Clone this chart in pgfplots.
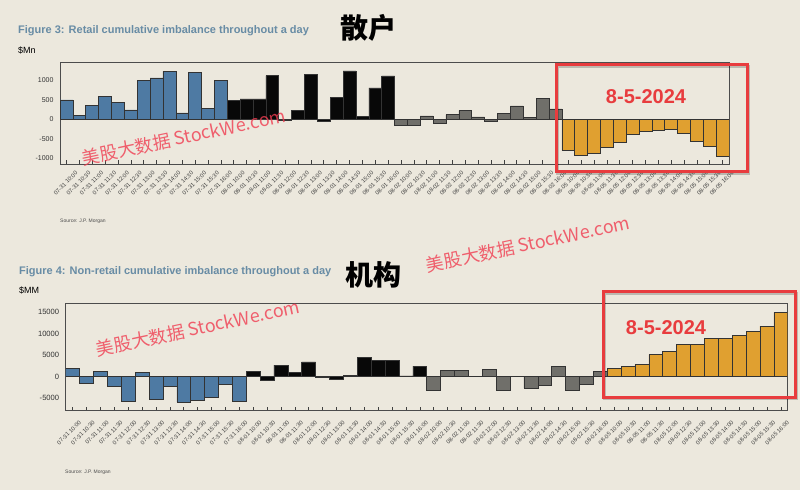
\documentclass[border=0pt]{standalone}
\usepackage{pgfplots}
\pgfplotsset{compat=1.18}
\usepackage{fontspec}
\setmainfont{Liberation Sans}
\newfontfamily\cjk{Noto Sans CJK SC}
\definecolor{bg}{RGB}{236,232,221}
\definecolor{rblue}{RGB}{78,122,163}
\definecolor{rblack}{RGB}{8,8,8}
\definecolor{rgray}{RGB}{112,111,106}
\definecolor{rorange}{RGB}{224,160,48}
\definecolor{titleblue}{RGB}{104,140,165}
\definecolor{boxred}{RGB}{232,60,62}
\definecolor{wmred}{RGB}{240,60,80}
\pgfplotsset{
  imb/.style={
    scale only axis, xmin=-0.5, xmax=51.5,
    scaled y ticks=false,
    xtick={0,...,51},
    xticklabels={07-31 10:00,07-31 10:30,07-31 11:00,07-31 11:30,07-31 12:00,07-31 12:30,07-31 13:00,07-31 13:30,07-31 14:00,07-31 14:30,07-31 15:00,07-31 15:30,07-31 16:00,
      08-01 10:00,08-01 10:30,08-01 11:00,08-01 11:30,08-01 12:00,08-01 12:30,08-01 13:00,08-01 13:30,08-01 14:00,08-01 14:30,08-01 15:00,08-01 15:30,08-01 16:00,
      08-02 10:00,08-02 10:30,08-02 11:00,08-02 11:30,08-02 12:00,08-02 12:30,08-02 13:00,08-02 13:30,08-02 14:00,08-02 14:30,08-02 15:00,08-02 15:30,08-02 16:00,
      08-05 10:00,08-05 10:30,08-05 11:00,08-05 11:30,08-05 12:00,08-05 12:30,08-05 13:00,08-05 13:30,08-05 14:00,08-05 14:30,08-05 15:00,08-05 15:30,08-05 16:00},
    xtick pos=left, tick align=inside, major tick length=3.5pt,
    xtick style={draw=black!75, line width=0.5pt},
    ytick style={draw=none},
    axis line style={draw=black!70, line width=0.7pt},
    x tick label style={rotate=45, anchor=east, font=\fontsize{5.8}{5.8}\selectfont, text=black!75, inner sep=0.5pt, yshift=-13pt},
    y tick label style={text=black!80, xshift=-3pt},
  },
  bars/.style={ybar, bar width=1, bar shift=0pt, draw=black!80, line width=0.5pt, fill=#1},
}
\begin{document}
\begin{tikzpicture}[x=1pt,y=1pt]
\path[use as bounding box, fill=bg] (0,0) rectangle (800,490);

% ---------- Figure 3 ----------
\node[anchor=west, text=titleblue, font=\bfseries\fontsize{11}{11}\selectfont, inner sep=0] at (18,459) {Figure 3: Retail cumulative imbalance throughout a day};
\node[anchor=west, font=\fontsize{9}{9}\selectfont, inner sep=0] at (18,440) {\$Mn};
\node[font=\cjk\bfseries\fontsize{28}{28}\selectfont, inner sep=0] at (368,462) {散户};
\node[anchor=west, font=\fontsize{5}{5}\selectfont, text=black!70, inner sep=0] at (60,269) {Source: J.P. Morgan};

\begin{axis}[imb, at={(60pt,326pt)}, anchor=south west, width=669pt, height=102pt,
  ymin=-1155, ymax=1480,
  ytick={-1000,-500,0,500,1000}, yticklabels={-1000,-500,0,500,1000},
  y tick label style={font=\fontsize{7}{7}\selectfont},
  x tick label style={xshift=2pt}]
\addplot[bars=rblue] coordinates {(0,500)(1,100)(2,355)(3,590)(4,435)(5,245)(6,1005)(7,1070)(8,1235)(9,165)(10,1210)(11,280)(12,1000)};
\addplot[bars=rblack] coordinates {(13,487)(14,530)(15,530)(16,1130)(17,-20)(18,222)(19,1165)(20,-43)(21,574)(22,1252)(23,78)(24,809)(25,1122)};
\addplot[bars=rgray] coordinates {(26,-165)(27,-148)(28,87)(29,-113)(30,122)(31,226)(32,61)(33,-61)(34,148)(35,348)(36,52)(37,539)(38,270)};
\addplot[bars=rorange] coordinates {(39,-809)(40,-922)(41,-870)(42,-730)(43,-583)(44,-374)(45,-313)(46,-287)(47,-252)(48,-357)(49,-574)(50,-704)(51,-957)};
\end{axis}

% ---------- Figure 4 ----------
\node[anchor=west, text=titleblue, font=\bfseries\fontsize{11}{11}\selectfont, inner sep=0] at (19,218) {Figure 4: Non-retail cumulative imbalance throughout a day};
\node[anchor=west, font=\fontsize{9}{9}\selectfont, inner sep=0] at (19,200) {\$MM};
\node[font=\cjk\bfseries\fontsize{28}{28}\selectfont, inner sep=0] at (373,215) {机构};
\node[anchor=west, font=\fontsize{5}{5}\selectfont, text=black!70, inner sep=0] at (65,18) {Source: J.P. Morgan};

\begin{axis}[imb, at={(65.7pt,79.3pt)}, anchor=south west, width=722pt, height=107.4pt,
  ymin=-7850, ymax=16950,
  ytick={-5000,0,5000,10000,15000}, yticklabels={-5000,0,5000,10000,15000},
  y tick label style={font=\fontsize{7.6}{7.6}\selectfont},
  x tick label style={xshift=-2pt}]
\addplot[bars=rblue] coordinates {(0,1850)(1,-1400)(2,1150)(3,-2300)(4,-5600)(5,1000)(6,-5100)(7,-2100)(8,-5850)(9,-5400)(10,-4850)(11,-1850)(12,-5600)};
\addplot[bars=rblack] coordinates {(13,1230)(14,-770)(15,2700)(16,920)(17,3400)(18,-150)(19,-700)(20,300)(21,4460)(22,3770)(23,3770)(24,200)(25,2460)};
\addplot[bars=rgray] coordinates {(26,-3080)(27,1460)(28,1460)(29,0)(30,1690)(31,-3080)(32,150)(33,-2620)(34,-2080)(35,2460)(36,-3230)(37,-1690)(38,1310)};
\addplot[bars=rorange] coordinates {(39,2000)(40,2300)(41,2850)(42,5080)(43,5850)(44,7540)(45,7460)(46,8920)(47,8850)(48,9460)(49,10460)(50,11690)(51,14850)};
\end{axis}

% ---------- red boxes ----------
\draw[black, opacity=0.2, line width=3pt] (557.5,316.5) rectangle (748.5,423.5);
\draw[boxred, line width=3pt] (556,318) rectangle (747,425);
\node[text=boxred, font=\bfseries\fontsize{20}{20}\selectfont, inner sep=0] at (646,393) {8-5-2024};
\draw[black, opacity=0.2, line width=3pt] (604.5,91.5) rectangle (796.5,196.5);
\draw[boxred, line width=3pt] (603,93) rectangle (795,198);
\node[text=boxred, font=\bfseries\fontsize{20}{20}\selectfont, inner sep=0] at (666,162) {8-5-2024};

% ---------- watermarks ----------
\node[rotate=12, text=wmred, opacity=0.8, font=\cjk\fontsize{18}{18}\selectfont, inner sep=0] at (184,353) {美股大数据 StockWe.com};
\node[rotate=12, text=wmred, opacity=0.8, font=\cjk\fontsize{18}{18}\selectfont, inner sep=0] at (528,246) {美股大数据 StockWe.com};
\node[rotate=12, text=wmred, opacity=0.8, font=\cjk\fontsize{18}{18}\selectfont, inner sep=0] at (198,162) {美股大数据 StockWe.com};
\end{tikzpicture}
\end{document}
